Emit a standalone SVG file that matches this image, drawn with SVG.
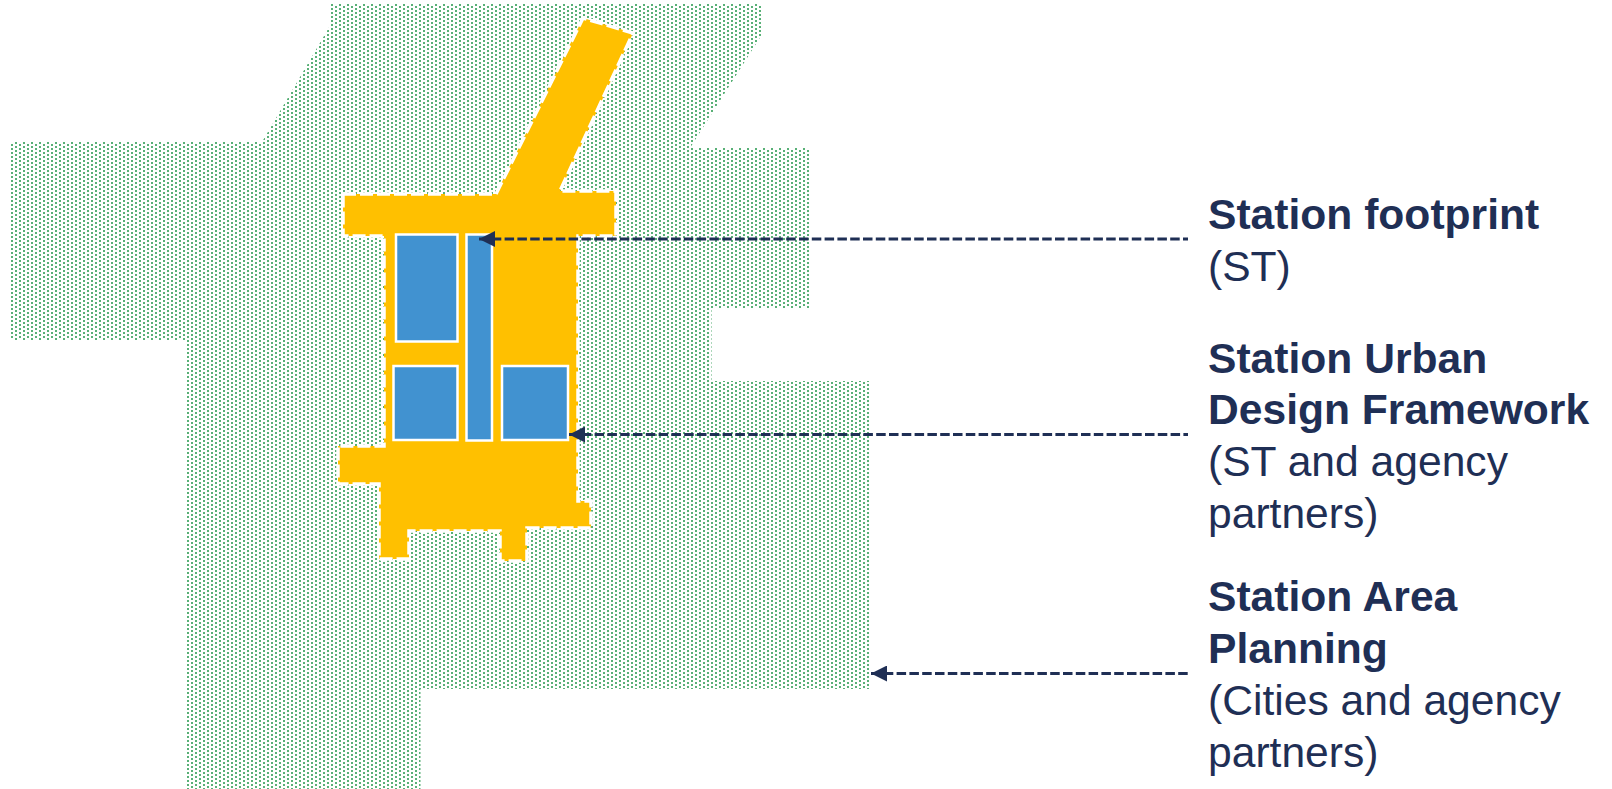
<svg xmlns="http://www.w3.org/2000/svg" width="1612" height="789" viewBox="0 0 1612 789">
<style>
.foot{fill:#4192d0;stroke:#fff;stroke-width:2.5}
.lead{fill:none;stroke:#1f2f55;stroke-width:3;stroke-dasharray:9.5 3.3;marker-start:url(#head)}
text{font-family:"Liberation Sans",Arial,sans-serif;font-size:42.6px;fill:#1f2f55}
.b{font-weight:700}
</style>
<defs>
<pattern id="dots" width="8" height="4" patternUnits="userSpaceOnUse" x="-1" y="0">
<rect x="4" y="0" width="2" height="2" fill="#58b076"/><rect x="0" y="2" width="2" height="2" fill="#58b076"/>
</pattern>
<marker id="head" markerUnits="userSpaceOnUse" markerWidth="16" markerHeight="16" refX="0" refY="8" orient="auto">
<path d="M0 8L16 0V16Z" fill="#1f2f55"/>
</marker>
</defs>
<g id="station-area">
<path fill="url(#dots)" d="M331 4H761V36L690 148H809V308H711.500V381H869V689H420.500V789H186V340H11V142H262L331 24Z"/>
</g>
<g id="urban-design-framework">
<path fill="#ffc000" stroke="#fff" stroke-width="3.500" stroke-dasharray="13 4" d="M343 194H496L583 18L633 33L560 191H616V236H578V501H591V528H527V561H500V531H409V559H379V484H338V446H384V236H343Z"/>
</g>
<g id="station-footprint">
<rect class="foot" x="396" y="234.500" width="61.500" height="107"/>
<rect class="foot" x="466.500" y="234.500" width="25.500" height="206"/>
<rect class="foot" x="393.500" y="366" width="64" height="74"/>
<rect class="foot" x="502" y="366" width="66" height="74"/>
</g>
<g id="connectors">
<path class="lead" d="M479 239H1188"/>
<path class="lead" d="M569 434.500H1188"/>
<path class="lead" d="M871 673.500H1188"/>
</g>
<g id="labels">
<text class="b" x="1208" y="229">Station footprint</text>
<text x="1208" y="281">(ST)</text>
<text class="b" x="1208" y="373">Station Urban</text>
<text class="b" x="1208" y="424">Design Framework</text>
<text x="1208" y="476">(ST and agency</text>
<text x="1208" y="528">partners)</text>
<text class="b" x="1208" y="611">Station Area</text>
<text class="b" x="1208" y="663">Planning</text>
<text x="1208" y="715">(Cities and agency</text>
<text x="1208" y="767">partners)</text>
</g>
</svg>
